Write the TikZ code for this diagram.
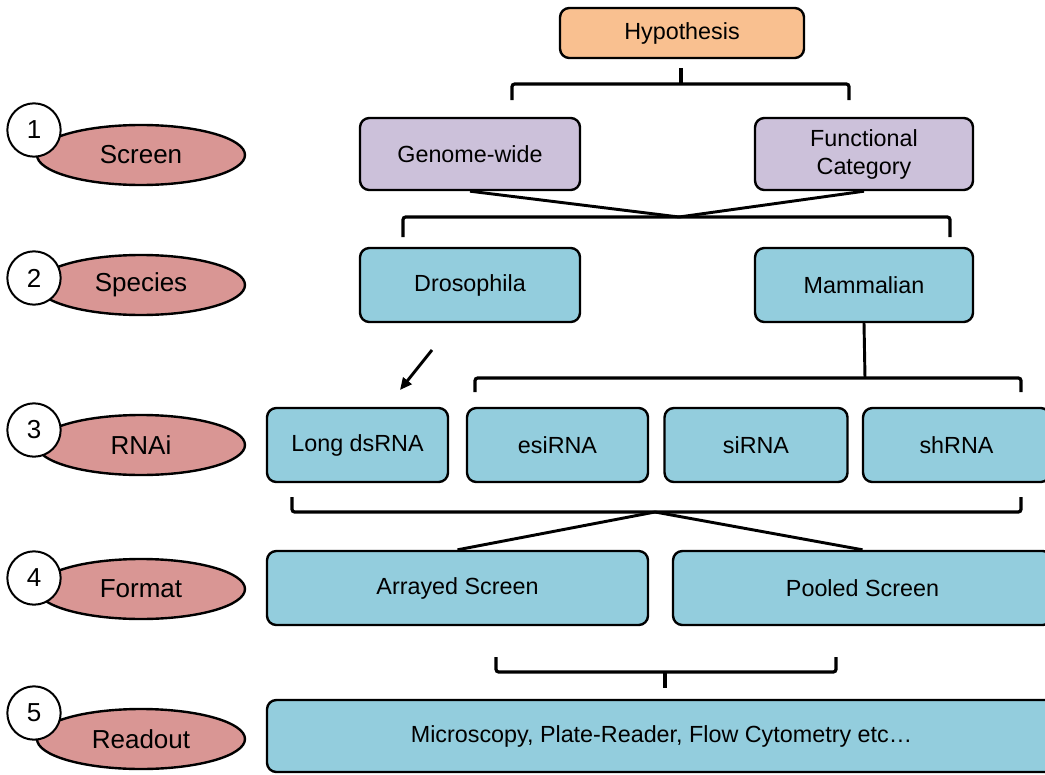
\documentclass[tikz,border=0pt]{standalone}
\usepackage{fontspec}
\setmainfont{Liberation Sans}
\usetikzlibrary{shapes.geometric,arrows.meta}
\definecolor{hypo}{HTML}{F9C090}
\definecolor{lilac}{HTML}{CCC1DA}
\definecolor{aqua}{HTML}{93CDDD}
\definecolor{rose}{HTML}{D99694}
\begin{document}
\begin{tikzpicture}[x=0.75pt,y=-0.75pt,
	every node/.style={font=\fontsize{17.5}{21}\selectfont},
	box/.style={draw, line width=1.8pt, rounded corners=7pt, align=center, inner sep=0pt},
	stage/.style={ellipse, draw, line width=1.8pt, fill=rose, minimum width=156pt, minimum height=45pt, inner sep=0pt, font=\fontsize{19.5}{23}\selectfont},
	num/.style={circle, draw, line width=1.5pt, fill=white, minimum size=40pt, inner sep=0pt, font=\fontsize{19.5}{23}\selectfont},
	brace/.style={line width=2.4pt, rounded corners=2pt},
	link/.style={line width=2.2pt}]
	\useasboundingbox (0,0) rectangle (1045,774);

	% boxes
	\node (hyp) at (682,33) [box, fill=hypo, minimum width=183pt, minimum height=37.5pt] {Hypothesis};
	\node (gw) at (470,154) [box, fill=lilac, minimum width=165pt, minimum height=54pt] {Genome-wide};
	\node (fc) at (864,154) [box, fill=lilac, minimum width=163.5pt, minimum height=54pt] {Functional\\Category};
	\node (dros) at (470,285) [box, fill=aqua, minimum width=165pt, minimum height=55.5pt] {Drosophila};
	\node (mam) at (864,285) [box, fill=aqua, minimum width=163.5pt, minimum height=55.5pt] {Mammalian};

	\node (long) at (357.5,445) [box, fill=aqua, minimum width=135.75pt, minimum height=55.5pt] {Long dsRNA};
	\node (esi) at (557.5,445) [box, fill=aqua, minimum width=135.75pt, minimum height=55.5pt] {esiRNA};
	\node (si) at (756,445) [box, fill=aqua, minimum width=137.25pt, minimum height=55.5pt] {siRNA};
	\node (sh) at (956.5,445) [box, fill=aqua, minimum width=140.25pt, minimum height=55.5pt] {shRNA};

	\node (arr) at (457.5,588) [box, fill=aqua, minimum width=285.75pt, minimum height=55.5pt] {Arrayed Screen};
	\node (pool) at (862.5,588) [box, fill=aqua, minimum width=284.25pt, minimum height=55.5pt] {Pooled Screen};
	\node (read) at (661.5,736) [box, fill=aqua, minimum width=591.75pt, minimum height=54pt] {Microscopy, Plate-Reader, Flow Cytometry etc\dots};

	% stages on the left
	\node (s1) at (141,155) [stage] {Screen};
	\node (s2) at (141,285) [stage] {Species};
	\node (s3) at (141,445) [stage] {RNAi};
	\node (s4) at (141,589) [stage] {Format};
	\node (s5) at (141,739) [stage] {Readout};
	\node (n1) at (34,130) [num] {1};
	\node (n2) at (34,278) [num] {2};
	\node (n3) at (34,430) [num] {3};
	\node (n4) at (34,578) [num] {4};
	\node (n5) at (34,713) [num] {5};

	% brackets and links
	\coordinate (b1) at (681,84);
	\coordinate (b1t) at (681,68);
	\coordinate (b1l) at (512,100);
	\coordinate (b1r) at (849,100);
	\draw [brace] (b1l) -- (b1l |- b1) -- (b1r |- b1) -- (b1r);
	\draw [brace] (b1) -- (b1t);

	\coordinate (b2) at (679,217);
	\coordinate (b2l) at (403,237);
	\coordinate (b2r) at (950,237);
	\draw [link] (gw.south) -- (b2) -- (fc.south);
	\draw [brace] (b2l) -- (b2l |- b2) -- (b2r |- b2) -- (b2r);

	\coordinate (b3) at (865,378);
	\coordinate (b3l) at (475,392);
	\coordinate (b3r) at (1021,392);
	\draw [link] (mam.south) -- (b3);
	\draw [brace] (b3l) -- (b3l |- b3) -- (b3r |- b3) -- (b3r);

	\coordinate (a1) at (432,350);
	\coordinate (a2) at (400,390);
	\draw [link, -{Triangle[length=9pt,width=8pt]}] (a1) -- (a2);

	\coordinate (b4) at (655,512);
	\coordinate (b4l) at (292,497);
	\coordinate (b4r) at (1021,497);
	\draw [brace] (b4l) -- (b4l |- b4) -- (b4r |- b4) -- (b4r);
	\draw [link] (arr.north) -- (b4) -- (pool.north);

	\coordinate (b5) at (665,672);
	\coordinate (b5b) at (665,688);
	\coordinate (b5l) at (496,657);
	\coordinate (b5r) at (836,657);
	\draw [brace] (b5l) -- (b5l |- b5) -- (b5r |- b5) -- (b5r);
	\draw [brace] (b5) -- (b5b);
\end{tikzpicture}
\end{document}
